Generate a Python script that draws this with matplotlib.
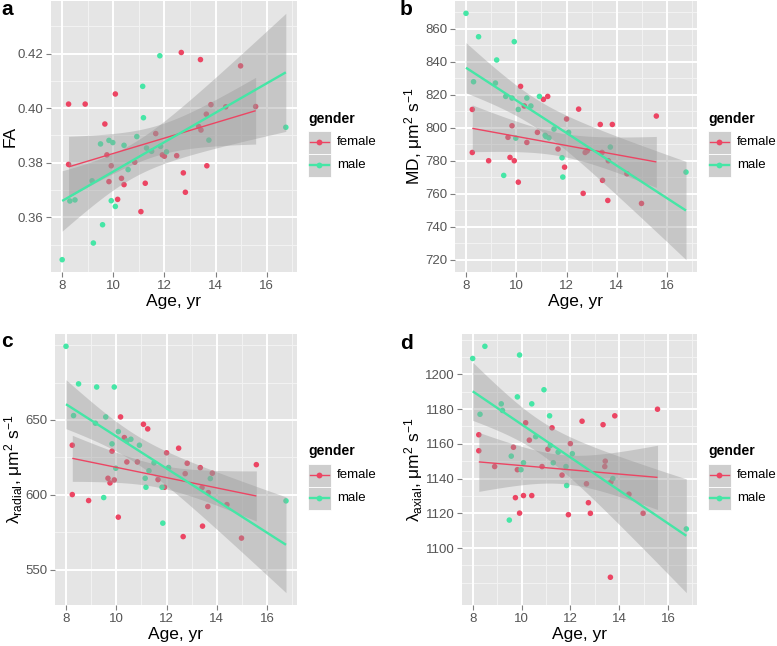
import math
import numpy as np
import matplotlib
matplotlib.use("Agg")
import matplotlib.pyplot as plt
from matplotlib.lines import Line2D
from matplotlib.patches import Rectangle

plt.rcParams['font.family'] = ['Liberation Sans', 'DejaVu Sans']
plt.rcParams['mathtext.fontset'] = 'custom'
plt.rcParams['mathtext.rm'] = 'Liberation Sans'
plt.rcParams['mathtext.it'] = 'Liberation Sans:italic'
plt.rcParams['mathtext.default'] = 'regular'

# ---------------- data ----------------
male_age = [8.0, 8.3, 8.5, 9.17, 9.22, 9.5, 9.58, 9.83, 9.92, 9.98, 10.08, 10.42,
            10.58, 10.92, 11.15, 11.18, 11.3, 11.5, 11.82, 11.85, 12.08, 13.74, 16.75]
male_fa = [0.3445, 0.366, 0.3664, 0.3734, 0.3506, 0.3869, 0.3573, 0.3882, 0.3661, 0.3874,
           0.364, 0.3864, 0.3775, 0.3896, 0.408, 0.3965, 0.3854, 0.3842, 0.4192, 0.386,
           0.384, 0.3883, 0.393]
male_md = [869.5, 828.0, 855.3, 827.2, 841.2, 771.2, 819.1, 818.1, 852.3, 793.8, 811.2,
           818.1, 813.3, 819.1, 795.5, 794.8, 794.0, 799.3, 781.9, 770.2, 797.3, 788.4, 773.2]
male_rad = [699.2, 652.9, 674.1, 647.8, 672.0, 598.1, 652.0, 634.0, 672.0, 617.7, 642.2,
            636.0, 637.1, 633.1, 611.0, 605.0, 616.0, 621.3, 605.0, 581.0, 618.2, 610.8, 595.9]
male_ax = [1209.1, 1177.0, 1216.1, 1183.0, 1179.2, 1116.1, 1152.9, 1187.0, 1211.1, 1145.1,
           1149.1, 1183.0, 1164.1, 1191.1, 1176.1, 1159.0, 1149.1, 1155.2, 1146.9, 1136.0,
           1154.3, 1140.0, 1111.0]

female_age = [8.25, 8.25, 8.9, 9.67, 9.75, 9.83, 9.92, 10.08, 10.17, 10.32, 10.42, 10.84,
              11.08, 11.25, 11.66, 11.92, 12.0, 12.48, 12.66, 12.74, 12.82, 13.34, 13.41,
              13.43, 13.64, 13.66, 13.82, 14.4, 14.98, 15.57]
female_fa = [0.4015, 0.3794, 0.4015, 0.3942, 0.3829, 0.3731, 0.3789, 0.4052, 0.3666, 0.3743,
             0.372, 0.3802, 0.3621, 0.3725, 0.3907, 0.3829, 0.3824, 0.3826, 0.4204, 0.3763,
             0.3692, 0.3933, 0.4178, 0.392, 0.3978, 0.3789, 0.4013, 0.4005, 0.4155, 0.4006]
female_md = [811.2, 785.1, 780.1, 794.3, 782.1, 801.3, 780.1, 767.1, 825.2, 813.3, 791.2,
             797.3, 817.3, 819.1, 787.2, 776.2, 805.4, 811.4, 760.3, 785.1, 786.0, 802.1,
             785.1, 768.2, 756.0, 780.1, 802.1, 772.2, 754.2, 807.2]
female_rad = [633.1, 600.1, 596.1, 611.0, 607.9, 629.1, 609.9, 585.0, 652.0, 638.2, 621.9,
              621.9, 647.1, 644.0, 610.1, 605.0, 628.0, 631.1, 572.0, 614.1, 621.0, 618.1,
              604.8, 579.0, 592.1, 601.4, 614.4, 593.4, 571.0, 620.1]
female_ax = [1165.2, 1156.0, 1146.9, 1158.0, 1129.0, 1145.1, 1120.1, 1130.2, 1172.1, 1162.1,
             1130.2, 1146.9, 1156.9, 1169.2, 1142.0, 1119.2, 1160.1, 1173.0, 1137.0, 1126.1,
             1120.0, 1171.0, 1146.9, 1150.0, 1083.2, 1138.0, 1176.1, 1131.0, 1120.0, 1179.9]

x_ticks = [8, 10, 12, 14, 16]
fa_ticks = [0.36, 0.38, 0.40, 0.42]
md_ticks = [720, 740, 760, 780, 800, 820, 840, 860]
rad_ticks = [550, 600, 650]
ax_ticks = [1100, 1120, 1140, 1160, 1180, 1200]

groups = ['female', 'male']
panel_letters = ['a', 'b', 'c', 'd']
x_label = 'Age, yr'
y_labels = ['FA',
            r'MD, μm$^{2}$ s$^{-1}$',
            r'λ$_{radial}$, μm$^{2}$ s$^{-1}$',
            r'λ$_{axial}$, μm$^{2}$ s$^{-1}$']

# ---------------- style ----------------
COL = {'female': '#EC4563', 'male': '#45E6A6'}
LW = {'female': 1.0, 'male': 1.7}
BG = '#E5E5E5'
TICKCOL = '#555555'
W, H = 777, 646


def t_quantile(p, df):
    c = math.gamma((df + 1) / 2) / (math.sqrt(df * math.pi) * math.gamma(df / 2))

    def cdf(t):
        xs = np.linspace(0, t, 4001)
        return 0.5 + np.trapezoid(c * (1 + xs ** 2 / df) ** (-(df + 1) / 2), xs)
    lo, hi = 0.0, 10.0
    for _ in range(60):
        mid = (lo + hi) / 2
        if cdf(mid) < p:
            lo = mid
        else:
            hi = mid
    return (lo + hi) / 2


def lm_fit(x, y):
    x = np.asarray(x, float)
    y = np.asarray(y, float)
    n = len(x)
    xb = x.mean()
    sxx = ((x - xb) ** 2).sum()
    b = ((x - xb) * (y - y.mean())).sum() / sxx
    a = y.mean() - b * xb
    s = math.sqrt(((y - (a + b * x)) ** 2).sum() / (n - 2))
    xs = np.linspace(x.min(), x.max(), 80)
    yh = a + b * xs
    se = s * np.sqrt(1.0 / n + (xs - xb) ** 2 / sxx)
    t = t_quantile(0.975, n - 2)
    return xs, yh, yh - t * se, yh + t * se


def fx(px):
    return px / W


def fy(py):
    return 1 - py / H


fig = plt.figure(figsize=(W / 100, H / 100), dpi=100)

# axes rectangles in pixels: left, top, right, bottom
rects = [(51, 1, 297, 272), (455, 1, 697, 272), (55, 334, 297, 605), (462, 334, 697, 605)]
tick_sets = [fa_ticks, md_ticks, rad_ticks, ax_ticks]
tick_fmt = ['{:.2f}', '{:.0f}', '{:.0f}', '{:.0f}']
data_sets = [(female_fa, male_fa), (female_md, male_md), (female_rad, male_rad), (female_ax, male_ax)]
letter_pos = [(1, 0), (400, 0), (1, 332), (400, 334)]
legend_x = [308, 708, 308, 708]

for i in range(4):
    l, t, r, b = rects[i]
    ax = fig.add_axes([fx(l), fy(b), fx(r) - fx(l), fy(t) - fy(b)])
    ax.set_facecolor(BG)
    for sp in ax.spines.values():
        sp.set_visible(False)

    ages = {'female': female_age, 'male': male_age}
    vals = {'female': data_sets[i][0], 'male': data_sets[i][1]}
    fits = {g: lm_fit(ages[g], vals[g]) for g in groups}

    # points
    for g in groups:
        ax.scatter(ages[g], vals[g], s=16, color=COL[g], edgecolors='none', zorder=3)
    # ribbons
    for g in groups:
        xs, yh, lo, hi = fits[g]
        ax.fill_between(xs, lo, hi, color='#999999', alpha=0.4, linewidth=0, zorder=4)
    # lines
    for g in groups:
        xs, yh, lo, hi = fits[g]
        ax.plot(xs, yh, color=COL[g], lw=LW[g], zorder=5, solid_capstyle='butt')

    allx = np.concatenate([female_age, male_age])
    ally = np.concatenate([vals['female'], vals['male'],
                           fits['female'][2], fits['female'][3],
                           fits['male'][2], fits['male'][3]])
    x0, x1 = allx.min(), allx.max()
    y0, y1 = ally.min(), ally.max()
    ax.set_xlim(x0 - 0.05 * (x1 - x0), x1 + 0.05 * (x1 - x0))
    ax.set_ylim(y0 - 0.05 * (y1 - y0), y1 + 0.05 * (y1 - y0))
    xl = ax.get_xlim()
    yl = ax.get_ylim()

    yt = tick_sets[i]
    ystep = yt[1] - yt[0]
    ax.set_xticks(x_ticks)
    ax.set_xticklabels([str(v) for v in x_ticks])
    ax.set_yticks(yt)
    ax.set_yticklabels([tick_fmt[i].format(v) for v in yt])

    # minor grid
    xm = [v + 1 for v in range(6, 18, 2) if xl[0] <= v + 1 <= xl[1]]
    ym = []
    k = yt[0] - ystep
    while k <= yt[-1] + ystep + 1e-9:
        for v in (k, k + ystep / 2):
            if yl[0] <= v <= yl[1] and not any(abs(v - m) < 1e-9 for m in yt):
                ym.append(v)
        k += ystep
    for v in xm:
        ax.axvline(v, color='#F2F2F2', lw=0.8, zorder=0.5)
    for v in ym:
        ax.axhline(v, color='#F2F2F2', lw=0.8, zorder=0.5)
    for v in x_ticks:
        ax.axvline(v, color='white', lw=1.4, zorder=1)
    for v in yt:
        ax.axhline(v, color='white', lw=1.4, zorder=1)

    ax.tick_params(axis='both', colors='#7F7F7F', labelcolor=TICKCOL, labelsize=9.5,
                   length=3.5, width=0.8, pad=2)
    ax.set_xlabel(x_label, fontsize=12.5, labelpad=2)
    ax.set_ylabel(y_labels[i], fontsize=12.5, labelpad=0)

    # panel letter
    fig.text(fx(letter_pos[i][0]), fy(letter_pos[i][1]), panel_letters[i],
             fontsize=15, fontweight='bold', va='top', ha='left')

    # legend
    cy = (t + b) / 2.0
    lx = legend_x[i]
    fig.text(fx(lx), fy(cy - 18), 'gender', fontsize=10, fontweight='bold',
             va='center', ha='left')
    for j, g in enumerate(groups):
        ky = cy + 5.5 + j * 23
        fig.add_artist(Rectangle((fx(lx), fy(ky + 11.5)), 22.5 / W, 23 / H,
                                 transform=fig.transFigure, facecolor='#CECECE',
                                 edgecolor='white', lw=0.6))
        fig.add_artist(Line2D([fx(lx + 1.5), fx(lx + 21)], [fy(ky), fy(ky)],
                              transform=fig.transFigure, color=COL[g], lw=LW[g]))
        fig.add_artist(Line2D([fx(lx + 11.25)], [fy(ky)], transform=fig.transFigure,
                              marker='o', markersize=4.2, color=COL[g], lw=0,
                              markeredgewidth=0))
        fig.text(fx(lx + 29), fy(ky), g, fontsize=9.5, va='center', ha='left')

fig.savefig('out.png', dpi=100)
